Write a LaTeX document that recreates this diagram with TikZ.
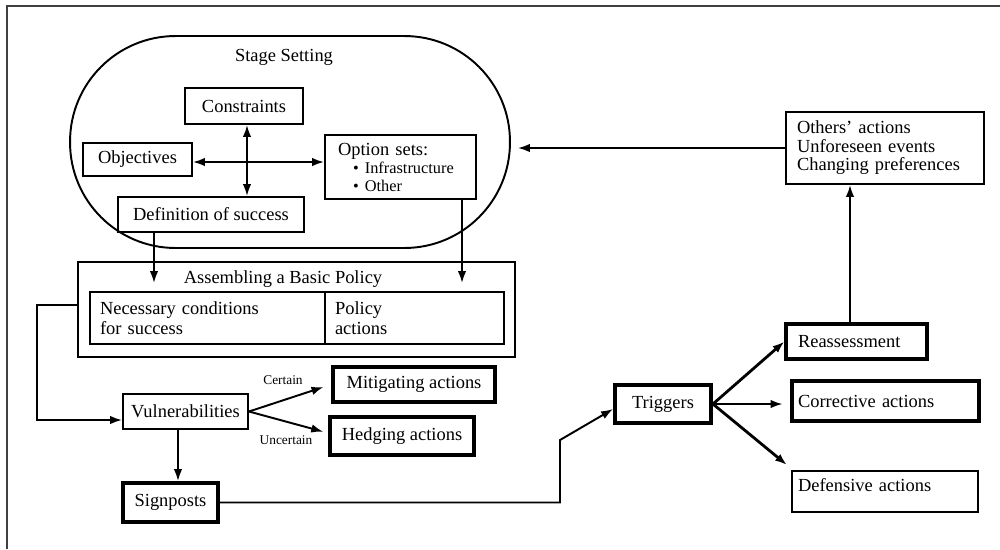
\documentclass[tikz,border=0pt]{standalone}
\usepackage{fontspec}
\setmainfont{Liberation Serif}
\usetikzlibrary{arrows.meta}
\begin{document}
\begin{tikzpicture}[x=0.02cm, y=-0.02cm,
  every node/.style={font=\fontsize{10.5}{12}\selectfont},
  box/.style={draw, line width=1.1pt, inner sep=0pt, align=center},
  heavy/.style={box, line width=2.2pt},
  lbox/.style={box, align=left, inner xsep=#1},
  lbox/.default=0.22cm,
  arr/.style={line width=1.1pt, -{Latex[length=0.24cm,width=0.17cm]}},
  darr/.style={line width=1.1pt, {Latex[length=0.24cm,width=0.17cm]}-{Latex[length=0.24cm,width=0.17cm]}},
  small/.style={font=\fontsize{7.6}{9}\selectfont, inner sep=0pt}
]
\useasboundingbox (0,0) rectangle (1000,549);
% frame
\draw[line width=1.6pt, black!75] (7,549) -- (7,6) -- (1000,6);

% stage setting
\node[draw, line width=1.1pt, rounded corners=2.11cm, minimum width=8.8cm, minimum height=4.24cm] (stage) at (290,142) {};
\node (stagetitle) at (284,57) {Stage Setting};
\node[box, minimum width=2.36cm, minimum height=0.72cm] (constr) at (244,106) {Constraints};
\node[box, minimum width=2.18cm, minimum height=0.66cm] (obj) at (137.5,159.5) {Objectives};
\node[box, minimum width=3.72cm, minimum height=0.70cm] (defn) at (211,214.5) {Definition of success};
\node[lbox=0.26cm, text width=2.5cm, minimum height=1.28cm] (opt) at (400.5,167)
  {Option sets:\\[-1.5pt]
   {\fontsize{9.3}{10}\selectfont\hspace{0.3cm}\textbullet\ Infrastructure}\\[-2pt]
   {\fontsize{9.3}{10}\selectfont\hspace{0.3cm}\textbullet\ Other}};
\coordinate (cross) at (247,162);
\draw[darr] (constr.south -| cross) -- (defn.north -| cross);
\draw[darr] (obj.east |- cross) -- (opt.west |- cross);

% assembling a basic policy
\node[box, minimum width=8.74cm, minimum height=1.90cm] (assm) at (296.5,309.5) {};
\node (assmtitle) at (283,279) {Assembling a Basic Policy};
\node[lbox=0.2cm, text width=4.3cm, minimum height=1.04cm] (inleft) at (207.5,318)
  {Necessary conditions\\[-0.5pt]for success};
\node[lbox=0.2cm, text width=3.18cm, minimum height=1.04cm] (inright) at (414.5,318)
  {Policy\\[-0.5pt]actions};
\coordinate (dx) at (154,0);
\coordinate (ox) at (462,0);
\draw[arr, shorten >=0.16cm] (defn.south -| dx) -- (inleft.north -| dx);
\draw[arr, shorten >=0.16cm] (opt.south -| ox) -- (inright.north -| ox);

% vulnerabilities
\node[box, minimum width=2.50cm, minimum height=0.70cm] (vul) at (185.5,411.5) {Vulnerabilities};
\node[heavy, minimum width=3.24cm, minimum height=0.70cm] (mit) at (414,384.5) {Mitigating actions};
\node[heavy, minimum width=2.88cm, minimum height=0.76cm] (hed) at (402,436) {Hedging actions};
\node[heavy, minimum width=1.90cm, minimum height=0.78cm] (sig) at (170.5,502.5) {Signposts};
\coordinate (c1) at (37,305);
\coordinate (c2) at (0,420);
\draw[arr] (assm.west |- c1) -- (c1) |- (vul.west |- c2);
\draw[arr, shorten >=0.16cm] (vul.east) -- (mit.west);
\draw[arr, shorten >=0.1cm] (vul.east) -- ([yshift=0.06cm]hed.west);
\node[small] (certain) at (283,380) {Certain};
\node[small] (uncertain) at (286,440) {Uncertain};
\coordinate (vx) at (178,0);
\draw[arr] (vul.south -| vx) -- (sig.north -| vx);

% triggers and responses
\node[heavy, minimum width=1.92cm, minimum height=0.76cm] (trig) at (663,404) {Triggers};
\node[heavy, lbox=0.24cm, line width=1.8pt, text width=2.34cm, minimum height=0.70cm] (reas) at (856.5,341.5) {Reassessment};
\node[heavy, lbox=0.12cm, line width=2.8pt, text width=3.5cm, minimum height=0.80cm] (corr) at (885.5,401) {Corrective actions};
\node[box, lbox=0.12cm, text width=3.48cm, inner ysep=0.1cm, text height=0.3cm, text depth=0.32cm] (def) at (885,491.5) {Defensive actions};
\coordinate (c3) at (560,440);
\coordinate (defin) at (787,465);
\draw[arr] (sig.east) -| (c3) -- ([yshift=-0.1cm]trig.west);
\draw[arr, line width=1.6pt] (trig.east) -- (reas.west);
\draw[arr, shorten >=0.14cm] (trig.east) -- (corr.west |- trig.east);
\draw[arr, line width=1.6pt] (trig.east) -- (defin);

% outside influences
\node[lbox=0.22cm, text width=3.52cm, minimum height=1.44cm] (others) at (885,148)
  {Others' actions\\[-1.5pt]Unforeseen events\\[-1.5pt]Changing preferences};
\coordinate (rx) at (850,0);
\draw[arr] (reas.north -| rx) -- (others.south -| rx);
\draw[arr, shorten >=0.14cm] (others.west) -- (others.west -| stage.east);
\end{tikzpicture}
\end{document}
